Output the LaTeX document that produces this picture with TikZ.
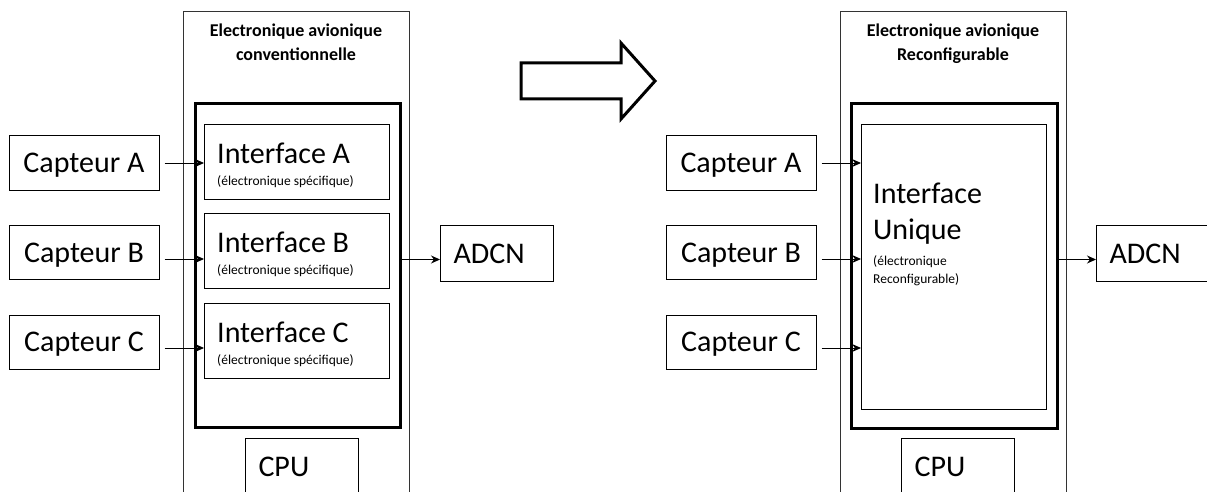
\documentclass[tikz,border=0pt]{standalone}
\usepackage{fontspec}
\setmainfont{Carlito}
\usetikzlibrary{arrows.meta, positioning}

\newcommand{\bigtxt}{\fontsize{30}{36}\selectfont}
\newcommand{\notetxt}{\fontsize{13.5}{18}\selectfont}
\newcommand{\titletxt}{\bfseries\fontsize{18}{24}\selectfont}

\tikzset{
  sensor/.style={draw, line width=1pt, minimum width=150pt, minimum height=54pt,
    inner sep=0pt, text height=19pt, text depth=0pt, font=\bigtxt},
  leftbox/.style={draw, line width=1pt, text width=87pt, inner xsep=13pt, inner ysep=0pt,
    minimum height=56pt, text height=19pt, text depth=0pt, align=left, font=\bigtxt,
    anchor=north west},
  procframe/.style={draw, line width=3pt, inner sep=0pt, anchor=north west},
  card/.style={draw, line width=1.2pt, inner sep=0pt, anchor=north west},
  txtline/.style={inner sep=0pt, anchor=base west},
  shell/.style={line width=1pt, black!80},
  link/.style={->, line width=1pt, shorten <=5pt},
}

\begin{document}
\begin{tikzpicture}[x=1pt, y=-1pt, >={Stealth[length=9pt, width=8pt]}]

\clip (0,0) rectangle (1207,492);

% ---------------- Left: conventional avionics ----------------
\draw[shell] (183,500) -- (183,12) -- (409,12) -- (409,500);
\node[font=\titletxt, align=center, anchor=north, inner sep=0pt] (titleL) at (296,24)
  {Electronique avionique\\conventionnelle};

\node[procframe, minimum width=205pt, minimum height=324pt] (procL) at (194,102) {};

% one interface card per sensor
\foreach \n/\y in {A/124, B/213, C/303} {
  \node[card, minimum width=185pt, minimum height=75pt] (if\n) at (204,\y) {};
  \node[txtline, font=\bigtxt] (ifname\n) at ([xshift=13pt, yshift=-39pt]if\n.north west) {Interface \n};
  \node[txtline, font=\notetxt] (ifnote\n) at ([xshift=13pt, yshift=-61.5pt]if\n.north west) {(électronique spécifique)};
}

\node[leftbox] (cpuL) at (245,438) {CPU};

% sensors
\foreach \n/\y in {A/163, B/252.5, C/342} {
  \node[sensor] (cap\n) at (84,\y) {Capteur \n};
}
\foreach \n/\dy in {A/0, B/-6.5, C/-6} {
  \draw[link] ([yshift=\dy pt]cap\n.east) -- ([yshift=\dy pt]cap\n.east -| if\n.west);
}

\node[leftbox] (adcnL) at (440,225) {ADCN};
\draw[link, shorten <=0pt] ([yshift=-6pt]adcnL.west -| procL.east) -- ([yshift=-6pt]adcnL.west);

% ---------------- Transition arrow ----------------
\draw[line width=3pt, line join=miter]
  (521,63) -- (621,63) -- (621,43) -- (655,81) -- (621,119) -- (621,99) -- (521,99) -- cycle;

% ---------------- Right: reconfigurable avionics ----------------
\draw[shell] (840,500) -- (840,12) -- (1066,12) -- (1066,500);
\node[font=\titletxt, align=center, anchor=north, inner sep=0pt] (titleR) at (953,24)
  {Electronique avionique\\Reconfigurable};

\node[procframe, minimum width=206pt, minimum height=325pt] (procR) at (850,102) {};
\node[card, minimum width=185pt, minimum height=285pt] (ifU) at (861,124) {};
\node[txtline, font=\bigtxt] (ifU1) at (873,203) {Interface};
\node[txtline, font=\bigtxt] (ifU2) at (873,239) {Unique};
\node[txtline, font=\notetxt] (ifU3) at (873,265) {(électronique};
\node[txtline, font=\notetxt] (ifU4) at (873,283) {Reconfigurable)};

\node[leftbox] (cpuR) at (901,438) {CPU};

\foreach \n/\y in {A/163, B/252.5, C/342} {
  \node[sensor] (rcap\n) at (741,\y) {Capteur \n};
}
\foreach \n/\dy in {A/0, B/-6.5, C/-6} {
  \draw[link] ([yshift=\dy pt]rcap\n.east) -- ([yshift=\dy pt]rcap\n.east -| ifU.west);
}

\node[leftbox] (adcnR) at (1096,225) {ADCN};
\draw[link, shorten <=0pt] ([yshift=-6pt]adcnR.west -| procR.east) -- ([yshift=-6pt]adcnR.west);

\end{tikzpicture}
\end{document}
